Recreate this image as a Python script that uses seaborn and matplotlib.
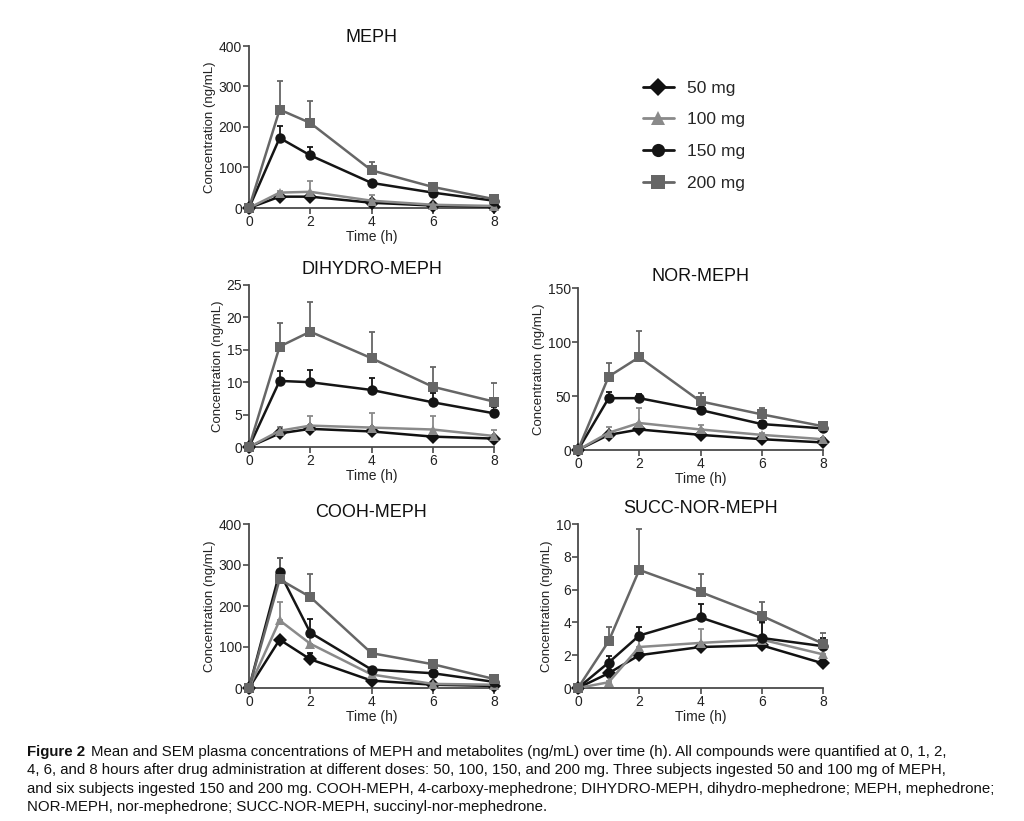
import numpy as np
import pandas as pd
import seaborn as sns
import matplotlib.pyplot as plt
from matplotlib.lines import Line2D

# --- data ---
times = [0, 1, 2, 4, 6, 8]
doses = ["50 mg", "100 mg", "150 mg", "200 mg"]

meph_mean = {"50 mg": [0, 28, 28, 13, 6, 3], "100 mg": [0, 38, 40, 18, 8, 5],
             "150 mg": [0, 173, 130, 62, 38, 18], "200 mg": [0, 243, 210, 93, 52, 22]}
meph_sem = {"50 mg": [0, 3, 3, 2, 1, 1], "100 mg": [0, 5, 27, 15, 3, 1],
            "150 mg": [0, 30, 20, 5, 4, 2], "200 mg": [0, 70, 55, 20, 6, 3]}

dihydro_mean = {"50 mg": [0, 2.1, 2.8, 2.4, 1.6, 1.3], "100 mg": [0, 2.5, 3.3, 3.0, 2.7, 1.7],
                "150 mg": [0, 10.2, 10.0, 8.8, 6.9, 5.2], "200 mg": [0, 15.5, 17.8, 13.7, 9.3, 7.0]}
dihydro_sem = {"50 mg": [0, 0.4, 0.5, 0.4, 0.3, 0.3], "100 mg": [0, 0.6, 1.5, 2.2, 2.1, 1.0],
               "150 mg": [0, 1.5, 1.9, 1.8, 1.4, 0.9], "200 mg": [0, 3.7, 4.5, 4.1, 3.0, 2.8]}

nor_mean = {"50 mg": [0, 14, 19, 14, 10, 7], "100 mg": [0, 16, 25, 19, 14, 10],
            "150 mg": [0, 48, 48, 37, 24, 20], "200 mg": [0, 68, 86, 45, 33, 22]}
nor_sem = {"50 mg": [0, 2, 2, 2, 1, 1], "100 mg": [0, 5, 14, 4, 2, 1],
           "150 mg": [0, 6, 4, 8, 3, 2], "200 mg": [0, 13, 24, 8, 6, 2]}

cooh_mean = {"50 mg": [0, 118, 70, 18, 8, 5], "100 mg": [0, 165, 108, 33, 10, 8],
             "150 mg": [0, 282, 135, 45, 36, 15], "200 mg": [0, 265, 222, 85, 58, 22]}
cooh_sem = {"50 mg": [0, 5, 15, 2, 1, 1], "100 mg": [0, 45, 17, 3, 2, 1],
            "150 mg": [0, 36, 33, 3, 4, 2], "200 mg": [0, 52, 56, 3, 4, 3]}

succ_mean = {"50 mg": [0, 0.9, 2.0, 2.5, 2.6, 1.5], "100 mg": [0, 0.35, 2.5, 2.75, 2.95, 2.05],
             "150 mg": [0, 1.55, 3.2, 4.3, 3.05, 2.55], "200 mg": [0, 2.85, 7.2, 5.85, 4.4, 2.7]}
succ_sem = {"50 mg": [0, 0.2, 0.2, 0.2, 0.2, 0.1], "100 mg": [0, 0.1, 0.4, 0.85, 1.0, 0.45],
            "150 mg": [0, 0.4, 0.5, 0.8, 1.0, 0.5], "200 mg": [0, 0.85, 2.5, 1.1, 0.85, 0.65]}

palette = {"50 mg": "#111111", "100 mg": "#8a8a8a", "150 mg": "#151515", "200 mg": "#666666"}
markers = {"50 mg": "D", "100 mg": "^", "150 mg": "o", "200 mg": "s"}

sns.set_style("ticks")
plt.rcParams['font.family'] = ['Liberation Sans', 'DejaVu Sans']

fig = plt.figure(figsize=(10.24, 8.21), dpi=100)

W, H = 1024, 821


def axes_px(x0, x1, ytop, ybot):
    return fig.add_axes([x0 / W, 1 - ybot / H, (x1 - x0) / W, (ybot - ytop) / H])


panels = [
    ("MEPH", meph_mean, meph_sem, 400, [0, 100, 200, 300, 400], (249, 494, 46, 208), 2),
    ("DIHYDRO-MEPH", dihydro_mean, dihydro_sem, 25, [0, 5, 10, 15, 20, 25], (249, 494, 285, 447), 8),
    ("NOR-MEPH", nor_mean, nor_sem, 150, [0, 50, 100, 150], (578, 823, 288, 450), 5),
    ("COOH-MEPH", cooh_mean, cooh_sem, 400, [0, 100, 200, 300, 400], (249, 494, 524, 688), 5),
    ("SUCC-NOR-MEPH", succ_mean, succ_sem, 10, [0, 2, 4, 6, 8, 10], (578, 823, 524, 688), 8),
]

axis_col = "#4a4a4a"

for title, means, sems, ymax, yticks, box, pad in panels:
    ax = axes_px(*box)
    rows = []
    for d in doses:
        for t, v in zip(times, means[d]):
            rows.append({"time": t, "conc": v, "dose": d})
    df = pd.DataFrame(rows)

    for d in doses:
        ax.errorbar(times, means[d], yerr=[np.zeros(len(times)), sems[d]], fmt="none",
                    ecolor=palette[d], elinewidth=1.3, capsize=2.5, capthick=1.3, zorder=2)

    sns.lineplot(data=df, x="time", y="conc", hue="dose", style="dose", hue_order=doses,
                 style_order=doses, palette=palette, markers=markers, dashes=False,
                 markersize=7.5, markeredgewidth=0, linewidth=1.8, errorbar=None,
                 legend=False, ax=ax, zorder=3)

    ax.set_xlim(0, 8)
    ax.set_ylim(0, ymax)
    ax.set_xticks([0, 2, 4, 6, 8])
    ax.set_yticks(yticks)
    ax.set_title(title, fontsize=13, pad=pad, color="#111111")
    ax.set_xlabel("Time (h)", fontsize=10, color="#222222", labelpad=1)
    ax.set_ylabel("Concentration (ng/mL)", fontsize=9.5, color="#222222", labelpad=2)
    ax.tick_params(labelsize=10, colors="#222222", length=4, width=1.2, pad=1)
    ax.tick_params(color=axis_col)
    for s in ["left", "bottom"]:
        ax.spines[s].set_color(axis_col)
        ax.spines[s].set_linewidth(1.3)
    sns.despine(ax=ax)
    for line in ax.lines:
        line.set_clip_on(False)

handles = [Line2D([0], [0], color=palette[d], marker=markers[d], markersize=9.5,
                  markeredgewidth=0, linewidth=2) for d in doses]
fig.legend(handles, doses, loc="upper left", bbox_to_anchor=(627 / W, 1 - 65 / H),
           frameon=False, fontsize=12.5, labelspacing=0.95, handlelength=1.8, handletextpad=0.75)

# --- caption ---
cap_font = ['Liberation Sans', 'DejaVu Sans']
cap_size = 10.8
cap_lines = [
    "Mean and SEM plasma concentrations of MEPH and metabolites (ng/mL) over time (h). All compounds were quantified at 0, 1, 2,",
    "4, 6, and 8 hours after drug administration at different doses: 50, 100, 150, and 200 mg. Three subjects ingested 50 and 100 mg of MEPH,",
    "and six subjects ingested 150 and 200 mg. COOH-MEPH, 4-carboxy-mephedrone; DIHYDRO-MEPH, dihydro-mephedrone; MEPH, mephedrone;",
    "NOR-MEPH, nor-mephedrone; SUCC-NOR-MEPH, succinyl-nor-mephedrone.",
]
y0 = 1 - 752 / H
bold = fig.text(27 / W, y0, "Figure 2", fontsize=cap_size, fontweight="bold", family=cap_font,
                va="center", ha="left", color="#111111")
fig.canvas.draw()
bb = bold.get_window_extent(renderer=fig.canvas.get_renderer())
fig.text(bb.x1 / W + 6 / W, y0, cap_lines[0], fontsize=cap_size, family=cap_font,
         va="center", ha="left", color="#111111")
for i, line in enumerate(cap_lines[1:], start=1):
    fig.text(27 / W, y0 - i * 18.3 / H, line, fontsize=cap_size, family=cap_font,
             va="center", ha="left", color="#111111")

fig.savefig("out.png", dpi=100)
